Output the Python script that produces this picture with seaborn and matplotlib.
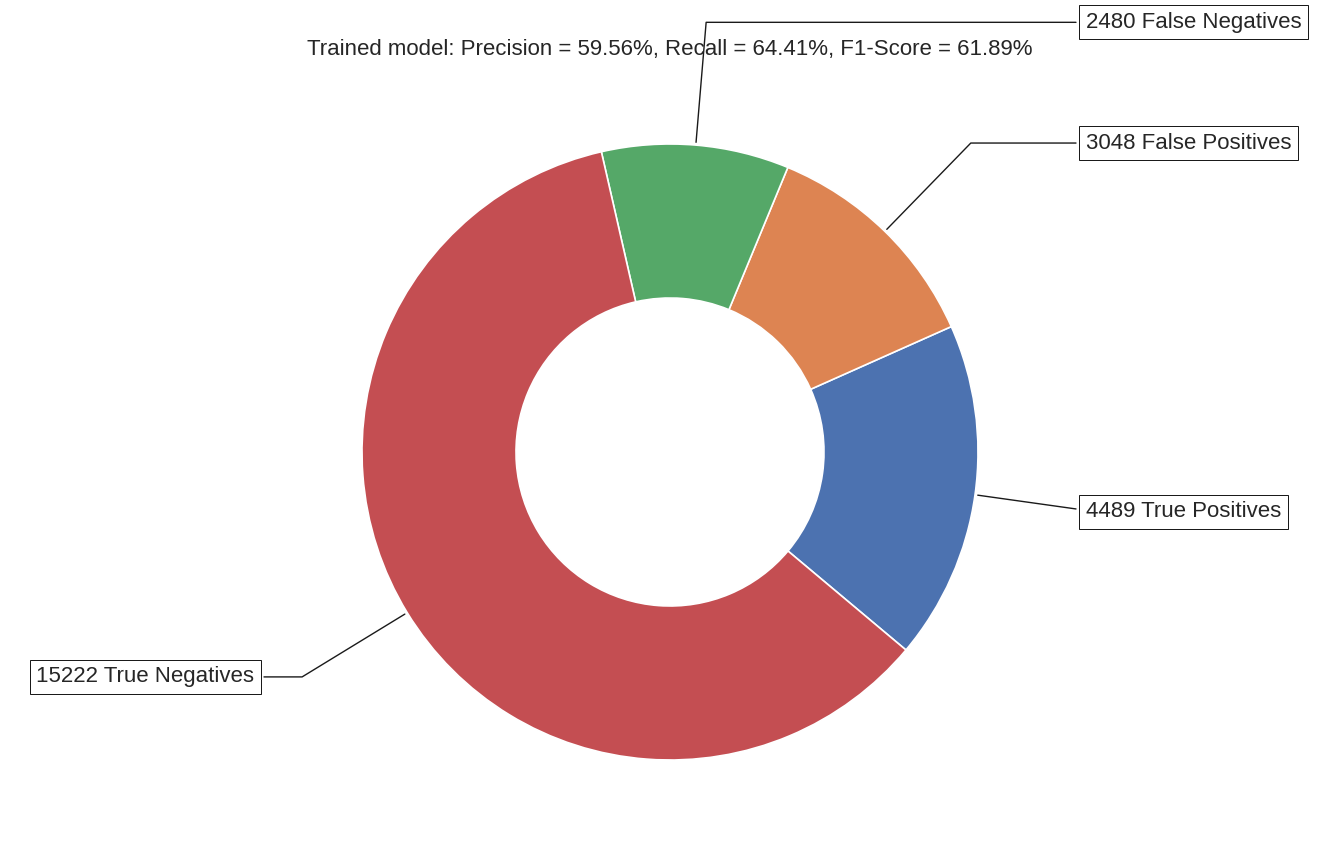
import numpy as np
import matplotlib
matplotlib.use("Agg")
import matplotlib.pyplot as plt
import seaborn as sns

labels = ["True Positives", "False Positives", "False Negatives", "True Negatives"]
counts = [4489, 3048, 2480, 15222]
title = "Trained model: Precision = 59.56%, Recall = 64.41%, F1-Score = 61.89%"

sns.set_theme(style="white")
plt.rcParams['font.family'] = ['Liberation Sans', 'DejaVu Sans']

fig = plt.figure(figsize=(13.37, 8.46), dpi=100)
ax = fig.add_axes([285 / 1337, 9 / 846, 770 / 1337, 770 / 846])

colors = sns.color_palette("deep")[:4]
wedges, _ = ax.pie(counts, startangle=-40, colors=colors,
                   wedgeprops=dict(width=0.5, edgecolor="white", linewidth=1.2))

bbox_props = dict(boxstyle="square,pad=0.3", fc="w", ec="k", lw=0.72)
kw = dict(arrowprops=dict(arrowstyle="-", color="k"), bbox=bbox_props, zorder=0, va="center")

for i, p in enumerate(wedges):
    ang = (p.theta2 - p.theta1) / 2. + p.theta1
    y = np.sin(np.deg2rad(ang))
    x = np.cos(np.deg2rad(ang))
    ha = {-1: "right", 1: "left"}[int(np.sign(x))]
    conn = f"angle,angleA=0,angleB={ang}"
    kw["arrowprops"].update({"connectionstyle": conn})
    ax.annotate(f"{counts[i]} {labels[i]}", xy=(x, y), xytext=(1.35 * np.sign(x), 1.4 * y),
                horizontalalignment=ha, fontsize=16, color="#262626", **kw)

fig.text(670 / 1337, 1 - 50 / 846, title, ha="center", va="center", fontsize=16, color="#262626")

fig.savefig("out.png", dpi=100)
